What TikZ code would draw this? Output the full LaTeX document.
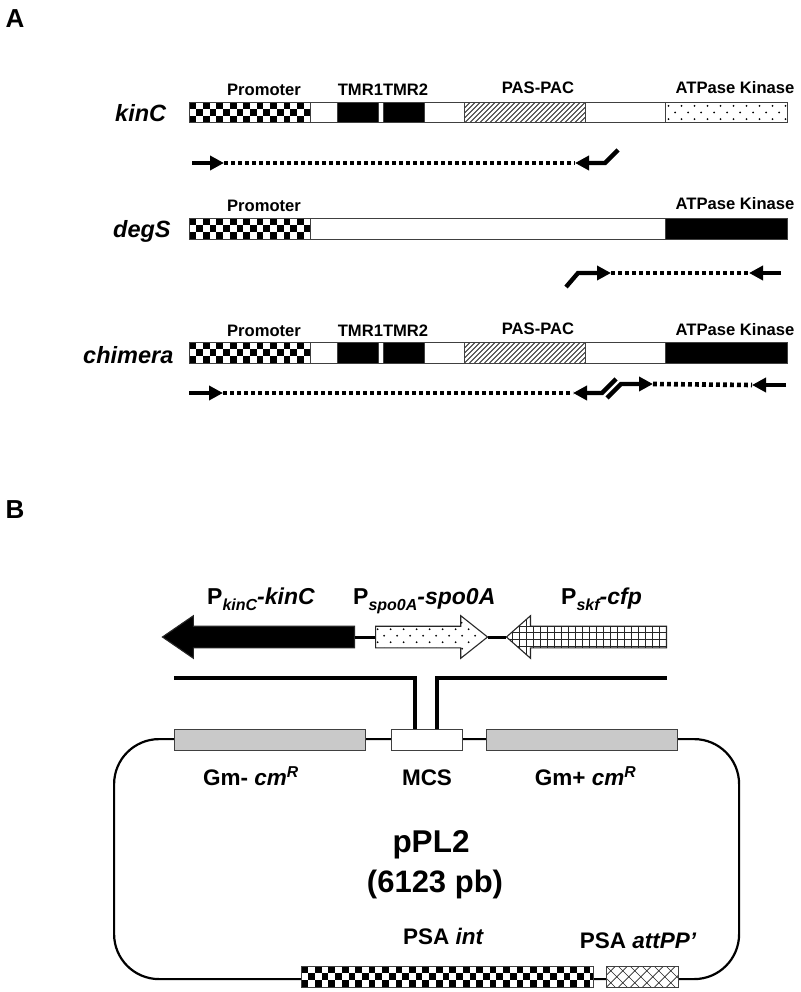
\documentclass[tikz,border=0pt]{standalone}
\usepackage{fontspec}
\setmainfont{Liberation Sans}
\usetikzlibrary{arrows.meta,shapes.arrows}

\begin{document}
\begin{tikzpicture}[
    x=1pt, y=-1pt, >={Triangle[length=14pt,width=14pt]}, line cap=butt,
    bar/.style     ={draw=black!75, line width=1pt, fill=white, inner sep=0pt, anchor=north west, minimum height=#1},
    bar/.default   =20.5pt,
    solidpart/.style={fill=black},
    graypart/.style ={fill=black!21},
    checker/.style ={path picture={
        \foreach \i in {0,...,44} \foreach \j in {0,1,2} {
          \pgfmathtruncatemacro{\odd}{mod(\i+\j,2)}
          \ifnum\odd=0 \fill[black] (path picture bounding box.north west) ++(\i*6.72,\j*6.84) rectangle ++(6.72,6.84); \fi
        }}},
    hatch/.style   ={path picture={
        \foreach \i in {0,...,32}
          \draw[line width=0.85pt, black!85] (path picture bounding box.south west) ++(\i*5-25,0) -- ++(24,-24);
        }},
    xhatch/.style  ={path picture={
        \foreach \i in {0,...,8} {
          \draw[line width=0.7pt, black!85] (path picture bounding box.south west) ++(\i*12-24,0) -- ++(24,-24);
          \draw[line width=0.7pt, black!85] (path picture bounding box.north west) ++(\i*12-24,0) -- ++(24,24);
        }}},
    dotted fill/.style={path picture={
        \foreach \i in {0,...,18} \foreach \j/\o in {#1} 
          \fill[black] (path picture bounding box.north west) ++(\i*13+\o,\j) circle (1pt);
        }},
    cross grid/.style={path picture={
        \foreach \i in {0,...,24}
          \draw[line width=1.1pt] (path picture bounding box.north east) ++(-\i*7,0) -- ++(0,45);
        \foreach \j in {10.5,17.2,23.9,30.6}
          \draw[line width=1.1pt] (path picture bounding box.north west) ++(0,\j) -- ++(170,0);
        }},
    genearrow/.style={single arrow, draw=black!85, line width=1.1pt, fill=white, inner sep=0pt,
        single arrow head extend=10.5pt, anchor=tail},
    genename/.style={font=\fontsize{23.5}{25}\selectfont\bfseries\itshape, anchor=base west, inner sep=0pt},
    dom/.style     ={font=\fontsize{16.6}{18}\selectfont\bfseries},
    lab/.style     ={font=\fontsize{22.5}{25}\selectfont\bfseries, anchor=base},
    panel/.style   ={font=\fontsize{26}{28}\selectfont\bfseries},
    gene/.style    ={font=\fontsize{23}{25}\selectfont\bfseries, anchor=base west, inner sep=0pt},
    primer/.style  ={line width=4.4pt},
    dots/.style    ={line width=4.6pt, dash pattern=on 3.8pt off 3.2pt},
    wire/.style    ={line width=3pt},
    plate/.style   ={line width=3.4pt}
]
\newcommand{\subP}[2]{P{\fontsize{16}{16}\selectfont\raisebox{-6.5pt}{\itshape #1}}{\itshape -#2}}
\newcommand{\shaftH}{\rule{0pt}{20.5pt}}
\useasboundingbox (0,0) rectangle (800,992);

\node[panel] (panelA) at (15,19) {A};
\node[panel] (panelB) at (15,510) {B};

% kinC
\node[genename] (kinC) at (115,122) {kinC};
\node[bar, minimum width=597.5pt] (kinCbar) at (189,102) {};
\node[bar, checker, minimum width=121pt] (kinCprom) at (189,102) {};
\node[bar, solidpart, minimum width=41pt] (kinCtmra) at (337,102) {};
\node[bar, solidpart, minimum width=41pt] (kinCtmrb) at (383,102) {};
\node[bar, hatch, minimum width=121pt] (kinCpas) at (464,102) {};
\node[bar, dotted fill={3.4/3,10/9.6,16.6/3}, minimum width=121.5pt] (kinCkin) at (665,102) {};
\node[dom] (kinCpromlab) at (264,90) {Promoter};
\node[dom] (kinCtmrlab) at (383,90) {TMR1TMR2};
\node[dom] (kinCpaslab) at (538,88) {PAS-PAC};
\node[dom] (kinCkinlab) at (735,88) {ATPase Kinase};
\coordinate (ka) at (192,163); \coordinate (kb) at (224,163);
\coordinate (kc) at (575,163); \coordinate (kd) at (605,163); \coordinate (ke) at (618,150);
\draw[primer, ->] (ka) -- (kb);
\draw[dots] (kb) -- (kc);
\draw[primer, ->] (ke) -- (kd) -- (kc);

% degS
\node[genename] (degS) at (113,237) {degS};
\node[bar, minimum width=597.5pt] (degSbar) at (189,218) {};
\node[bar, checker, minimum width=121pt] (degSprom) at (189,218) {};
\node[bar, solidpart, minimum width=121.5pt] (degSkin) at (665,218) {};
\node[dom] (degSpromlab) at (264,206) {Promoter};
\node[dom] (degSkinlab) at (735,204) {ATPase Kinase};
\coordinate (da) at (566,287); \coordinate (db) at (578,273); \coordinate (dc) at (611,273);
\coordinate (dd) at (749,273); \coordinate (de) at (781,273);
\draw[primer, ->] (da) -- (db) -- (dc);
\draw[dots] (dc) -- (dd);
\draw[primer, ->] (de) -- (dd);

% chimera
\node[genename] (chimera) at (83,363) {chimera};
\node[bar, minimum width=597.5pt] (chimbar) at (189,342) {};
\node[bar, checker, minimum width=121pt] (chimprom) at (189,342) {};
\node[bar, solidpart, minimum width=41pt] (chimtmra) at (337,342) {};
\node[bar, solidpart, minimum width=41pt] (chimtmrb) at (383,342) {};
\node[bar, hatch, minimum width=121pt] (chimpas) at (464,342) {};
\node[bar, solidpart, minimum width=121.5pt] (chimkin) at (665,342) {};
\node[dom] (chimpromlab) at (264,331) {Promoter};
\node[dom] (chimtmrlab) at (383,331) {TMR1TMR2};
\node[dom] (chimpaslab) at (538,329) {PAS-PAC};
\node[dom] (chimkinlab) at (735,330) {ATPase Kinase};
\coordinate (ca) at (189,393); \coordinate (cb) at (223,393);
\coordinate (cc) at (573,393); \coordinate (cd) at (602,393); \coordinate (ce) at (616,379);
\coordinate (cf) at (607,398); \coordinate (cg) at (621,384); \coordinate (ch) at (653,384);
\coordinate (ci) at (752,385); \coordinate (cj) at (786,385);
\draw[primer, ->] (ca) -- (cb);
\draw[dots] (cb) -- (cc);
\draw[primer, ->] (ce) -- (cd) -- (cc);
\draw[primer, ->] (cf) -- (cg) -- (ch);
\draw[dots] (ch) -- (ci);
\draw[primer, ->] (cj) -- (ci);

% insert
\node[gene] (kinClab) at (207,604) {\subP{kinC}{kinC}};
\node[gene] (spoAlab) at (353,604) {\subP{spo0A}{spo0A}};
\node[gene] (cfplab) at (561,604) {\subP{skf}{cfp}};
\node[genearrow, fill=black, shape border rotate=180, single arrow tip angle=69, minimum height=192pt] (kinCgene) at (355,637) {\shaftH};
\node[genearrow, dotted fill={7/8,13.5/2,20/8.5,26.5/2,33/8.5}, single arrow tip angle=77, minimum height=112pt] (spoAgene) at (375,637) {\shaftH};
\node[genearrow, cross grid, shape border rotate=180, single arrow tip angle=83, minimum height=160pt] (cfpgene) at (667,637) {\shaftH};
\draw[wire] (kinCgene.tail) -- (spoAgene.tail);
\draw[wire] (spoAgene.tip) -- (cfpgene.tip);

% pPL2
\node[draw, line width=2.2pt, rounded corners=45pt, minimum width=625pt, minimum height=240pt, anchor=north west, inner sep=0pt] (plasmid) at (113,738) {};
\node[bar, graypart, minimum width=191pt] (gmminus) at (174,729) {};
\node[bar, minimum width=71pt] (mcs) at (391,729) {};
\node[bar, graypart, minimum width=191pt] (gmplus) at (486,729) {};
\node[bar, checker, minimum width=292pt] (psaint) at (301,966) {};
\node[bar, xhatch, minimum width=72pt] (psaatt) at (606,966) {};
\coordinate (la) at (174,678); \coordinate (lb) at (415,678); \coordinate (lc) at (415,729);
\coordinate (ra) at (667,678); \coordinate (rb) at (437,678); \coordinate (rc) at (437,729);
\draw[plate] (la) -- (lb) -- (lc);
\draw[plate] (ra) -- (rb) -- (rc);
\node[lab] (gmminuslab) at (251,785) {Gm- {\itshape cm\textsuperscript{R}}};
\node[lab] (mcslab) at (427,785) {MCS};
\node[lab] (gmpluslab) at (585.5,785) {Gm+ {\itshape cm\textsuperscript{R}}};
\node[font=\fontsize{31.5}{37}\selectfont\bfseries] (pPLlab) at (431,845) {pPL2};
\node[font=\fontsize{31}{37}\selectfont\bfseries] (sizelab) at (435,884) {(6123 pb)};
\node[font=\fontsize{22.5}{25}\selectfont\bfseries] (psaintlab) at (443,936) {PSA {\itshape int}};
\node[font=\fontsize{22.5}{25}\selectfont\bfseries] (psaattlab) at (638,941) {PSA {\itshape attPP’}};
\end{tikzpicture}
\end{document}
